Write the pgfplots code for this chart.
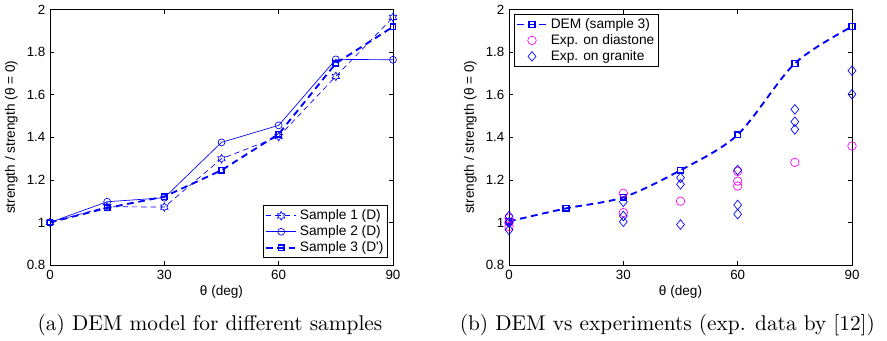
\documentclass[border=0pt]{standalone}
\usepackage{fontspec}
\usepackage{pgfplots}
\pgfplotsset{compat=1.18}
\newfontfamily\chartfont{Liberation Sans}
\pgfdeclareplotmark{hexagram}{%
  \pgfpathmoveto{\pgfpointpolar{90}{\pgfplotmarksize}}%
  \pgfpathlineto{\pgfpointpolar{120}{0.577\pgfplotmarksize}}%
  \pgfpathlineto{\pgfpointpolar{150}{\pgfplotmarksize}}%
  \pgfpathlineto{\pgfpointpolar{180}{0.577\pgfplotmarksize}}%
  \pgfpathlineto{\pgfpointpolar{210}{\pgfplotmarksize}}%
  \pgfpathlineto{\pgfpointpolar{240}{0.577\pgfplotmarksize}}%
  \pgfpathlineto{\pgfpointpolar{270}{\pgfplotmarksize}}%
  \pgfpathlineto{\pgfpointpolar{300}{0.577\pgfplotmarksize}}%
  \pgfpathlineto{\pgfpointpolar{330}{\pgfplotmarksize}}%
  \pgfpathlineto{\pgfpointpolar{0}{0.577\pgfplotmarksize}}%
  \pgfpathlineto{\pgfpointpolar{30}{\pgfplotmarksize}}%
  \pgfpathlineto{\pgfpointpolar{60}{0.577\pgfplotmarksize}}%
  \pgfpathclose\pgfusepathqstroke}
\pgfdeclareplotmark{mdiamond}{%
  \pgfpathmoveto{\pgfqpoint{0pt}{\pgfplotmarksize}}%
  \pgfpathlineto{\pgfqpoint{0.82\pgfplotmarksize}{0pt}}%
  \pgfpathlineto{\pgfqpoint{0pt}{-\pgfplotmarksize}}%
  \pgfpathlineto{\pgfqpoint{-0.82\pgfplotmarksize}{0pt}}%
  \pgfpathclose\pgfusepathqstroke}
\definecolor{mblue}{rgb}{0,0,1}
\definecolor{mmag}{rgb}{1,0,1}
\pgfplotsset{
  mystyle/.style={
    scale only axis, width=257.25pt, height=191.6pt,
    xmin=0, xmax=90, ymin=0.8, ymax=2,
    xtick={0,30,60,90}, ytick={0.8,1,1.2,1.4,1.6,1.8,2},
    tick align=inside, major tick length=3pt,
    axis line style={line width=0.6pt},
    every tick/.style={black, line width=0.5pt},
    /pgf/number format/assume math mode=true,
    tick label style={font=\chartfont\fontsize{10}{12}\selectfont},
    label style={font=\chartfont\fontsize{10.2}{12}\selectfont},
    xlabel={θ (deg)},
    ylabel={strength / strength (θ = 0)},
    xlabel style={yshift=2pt},
    legend cell align=left,
    legend style={font=\chartfont\fontsize{10.3}{12}\selectfont, draw=black, line width=0.6pt, inner sep=1pt, row sep=-1pt},
    legend image code/.code={\draw[mark repeat=2,mark phase=2,##1] plot coordinates {(0cm,0cm) (0.4cm,0cm) (0.8cm,0cm)};},
  }
}
\begin{document}
\begin{tikzpicture}
\path[use as bounding box] (-37.5pt,-57pt) rectangle (627.75pt,198.75pt);
\begin{axis}[mystyle, at={(0pt,0pt)}, anchor=south west,
  legend style={at={(rel axis cs:0.985,0.027)}, anchor=south east}]
\addplot[mblue, line width=0.5pt, dash pattern=on 4pt off 3pt, mark=hexagram, mark size=3.2pt, mark options={solid}]
  coordinates {(0,1) (15,1.074) (30,1.072) (45,1.299) (60,1.403) (75,1.686) (90,1.963)};
\addlegendentry{Sample 1 (D)}
\addplot[mblue, line width=0.5pt, mark=o, mark size=2.6pt]
  coordinates {(0,1) (15,1.097) (30,1.116) (45,1.376) (60,1.456) (75,1.766) (90,1.764)};
\addlegendentry{Sample 2 (D)}
\addplot[mblue, line width=1.4pt, dash pattern=on 5pt off 3.5pt, mark=square, mark size=2pt, mark options={solid, line width=1.2pt}]
  coordinates {(0,1) (15,1.068) (30,1.121) (45,1.245) (60,1.415) (75,1.747) (90,1.919)};
\addlegendentry{Sample 3 (D')}
\end{axis}
\begin{axis}[mystyle, at={(344.25pt,0pt)}, anchor=south west,
  legend style={at={(rel axis cs:0.015,0.982)}, anchor=north west}]
\addplot[mblue, line width=1.4pt, dash pattern=on 5pt off 3.5pt, smooth, mark=square, mark size=2.2pt, mark options={solid, line width=1.2pt}]
  coordinates {(0,1.005) (15,1.066) (30,1.118) (45,1.245) (60,1.412) (75,1.747) (90,1.92)};
\addlegendentry{DEM (sample 3)}
\addplot[only marks, mmag, line width=0.5pt, mark=o, mark size=3.2pt]
  coordinates {(0,1.0) (0,1.02) (0,0.98) (30,1.137) (30,1.046) (45,1.10) (60,1.24) (60,1.194) (60,1.171) (75,1.282) (90,1.359)};
\addlegendentry{Exp. on diastone}
\addplot[only marks, mblue, line width=0.5pt, mark=mdiamond, mark size=3.6pt]
  coordinates {(0,1.03) (0,1.0) (0,0.965) (30,1.097) (30,1.03) (30,1.003) (45,1.21) (45,1.179) (45,0.99) (60,1.246) (60,1.082) (60,1.039) (75,1.531) (75,1.473) (75,1.437) (90,1.713) (90,1.602)};
\addlegendentry{Exp. on granite}
\end{axis}
\node[font=\fontsize{10}{12}\selectfont, anchor=base, inner sep=0pt, scale=1.6] at (120pt,-49.5pt) {(a) DEM model for different samples};
\node[font=\fontsize{10}{12}\selectfont, anchor=base, inner sep=0pt, scale=1.6] at (463pt,-49.5pt) {(b) DEM vs experiments (exp. data by [12])};
\end{tikzpicture}
\end{document}
